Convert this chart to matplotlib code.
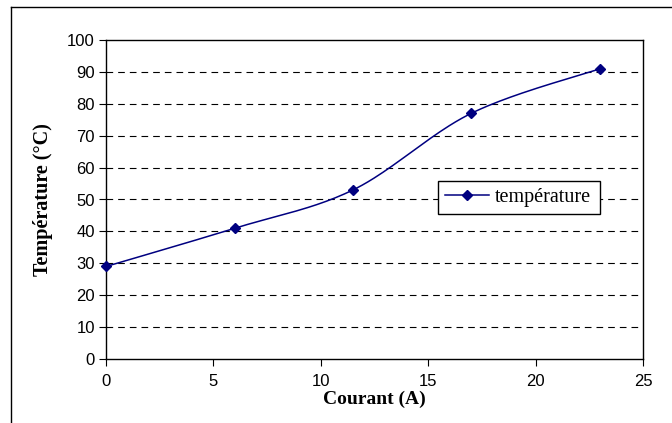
import numpy as np
import matplotlib.pyplot as plt
from matplotlib.lines import Line2D

courant = [0, 6, 11.5, 17, 23]
temperature = [29, 41, 53, 77, 91]
serie_label = "température"

x_ticks = [0, 5, 10, 15, 20, 25]
y_ticks = [0, 10, 20, 30, 40, 50, 60, 70, 80, 90, 100]


def lissage(x, y, n=40):
    # courbe lissée façon tableur (Bezier type Catmull-Rom)
    p = np.column_stack([x, y]).astype(float)
    pts = []
    for i in range(len(p) - 1):
        p0 = p[i - 1] if i > 0 else p[i]
        p1, p2 = p[i], p[i + 1]
        p3 = p[i + 2] if i + 2 < len(p) else p[i + 1]
        b1 = p1 + (p2 - p0) / 6
        b2 = p2 - (p3 - p1) / 6
        t = np.linspace(0, 1, n)[:, None]
        seg = ((1 - t) ** 3 * p1 + 3 * (1 - t) ** 2 * t * b1
               + 3 * (1 - t) * t ** 2 * b2 + t ** 3 * p2)
        pts.append(seg if i == 0 else seg[1:])
    pts = np.vstack(pts)
    return pts[:, 0], pts[:, 1]


fig = plt.figure(figsize=(6.72, 4.23), dpi=100)
ax = fig.add_axes([106 / 672, 1 - 359 / 423, 537 / 672, 319 / 423])

# cadre extérieur (coupé à droite et en bas)
fig.add_artist(Line2D([11 / 672, 11 / 672], [0, 1 - 7 / 423], color="black", lw=1.0))
fig.add_artist(Line2D([11 / 672, 1], [1 - 7 / 423, 1 - 7 / 423], color="black", lw=1.0))

col = "#000080"
xs, ys = lissage(courant, temperature)
ax.plot(xs, ys, color=col, lw=1.1, zorder=3)
ax.plot(courant, temperature, ls="none", marker="D", ms=5, color=col,
        clip_on=False, zorder=4)

ax.set_xlim(0, 25)
ax.set_ylim(0, 100)
ax.set_xticks(x_ticks)
ax.set_yticks(y_ticks)

for v in y_ticks[1:-1]:
    ax.axhline(v, color="black", lw=0.8, dashes=(6, 4.5), zorder=1)

for s in ax.spines.values():
    s.set_color("black")
    s.set_linewidth(1.0)

ax.tick_params(direction="out", length=5, width=0.8, color="black")
for lab in ax.get_xticklabels() + ax.get_yticklabels():
    lab.set_fontfamily("Liberation Sans")
    lab.set_fontsize(12)
ax.tick_params(axis="x", pad=6)
ax.tick_params(axis="y", pad=3)

ax.set_xlabel("Courant (A)", fontfamily="Liberation Serif", fontweight="bold",
              fontsize=14, labelpad=1)
ax.set_ylabel("Température (°C)", fontfamily="Liberation Serif", fontweight="bold",
              fontsize=14.5, labelpad=10)

handle = Line2D([], [], color=col, lw=1.1, marker="D", ms=5)
leg = ax.legend([handle], [serie_label], loc="lower left",
                bbox_to_anchor=(0.618, 0.455, 0.302, 0.128), mode="expand",
                prop={"family": "Liberation Serif", "size": 14.5},
                frameon=True, fancybox=False, borderpad=0.35,
                handlelength=2.2, handletextpad=0.3, borderaxespad=0)
leg.get_frame().set_edgecolor("black")
leg.get_frame().set_linewidth(1.0)
leg.get_frame().set_facecolor("white")
leg.get_frame().set_alpha(1)
leg.set_zorder(5)

fig.savefig("out.png", dpi=100)
